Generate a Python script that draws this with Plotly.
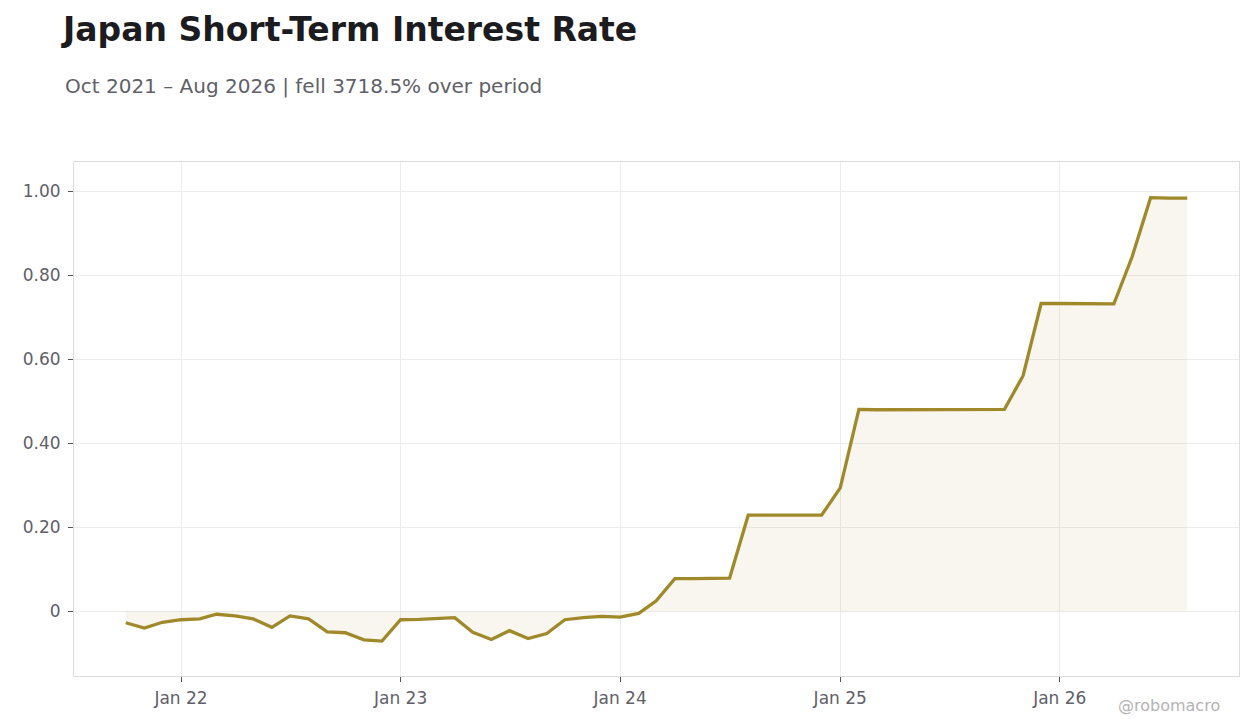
import pandas as pd
import plotly.graph_objects as go

# monthly observations, Oct 2021 .. Aug 2026
months = pd.date_range("2021-10-01", "2026-08-01", freq="MS")
rate = [
    -0.0272, -0.040, -0.026, -0.020, -0.018, -0.007, -0.011, -0.018, -0.038, -0.011,
    -0.018, -0.049, -0.051, -0.068, -0.071, -0.020, -0.019, -0.017, -0.015, -0.050,
    -0.067, -0.046, -0.065, -0.053, -0.020, -0.015, -0.012, -0.014, -0.005, 0.025,
    0.078, 0.078, 0.078, 0.079, 0.229, 0.229, 0.229, 0.229, 0.229, 0.294,
    0.481, 0.480, 0.480, 0.480, 0.481, 0.480, 0.480, 0.480, 0.481, 0.561,
    0.733, 0.733, 0.732, 0.732, 0.732, 0.843, 0.985, 0.984, 0.984,
]

ytick_vals = [0, 0.2, 0.4, 0.6, 0.8, 1.0]
ytick_text = ["0", "0.20", "0.40", "0.60", "0.80", "1.00"]

title = "Japan Short-Term Interest Rate"
subtitle = "Oct 2021 – Aug 2026 | fell 3718.5% over period"

line_col = "#a0892a"
text_col = "#5f6068"
grid_col = "#ececec"

# page body has an 8px margin, so the figure box is 1244x712
W, H = 1244, 712

fig = go.Figure()
fig.add_trace(go.Scatter(
    x=months, y=rate, mode="lines",
    line=dict(color=line_col, width=3.3),
    fill="tozeroy", fillcolor="rgba(160,137,42,0.08)",
    hoverinfo="skip", showlegend=False,
))

fig.update_layout(
    margin=dict(l=66, r=13, t=154, b=44),
    paper_bgcolor="#ffffff",
    plot_bgcolor="#ffffff",
    font=dict(family="DejaVu Sans", size=17, color=text_col),
    title=dict(
        text=f"<b>{title}</b>", x=55 / W, xanchor="left",
        y=1 - 21 / H, yanchor="middle", yref="container",
        font=dict(size=33, color="#1b1b20"),
    ),
    annotations=[
        dict(text=subtitle, xref="paper", yref="paper",
             x=(63 - 74) / 1165, y=(676 - 86) / 514, xanchor="left", yanchor="middle",
             showarrow=False, font=dict(size=20, color=text_col)),
        dict(text="@robomacro", xref="paper", yref="paper",
             x=(1222 - 74) / 1165, y=(676 - 705) / 514, xanchor="right", yanchor="middle",
             showarrow=False, font=dict(size=16, color="#b4b4b4")),
    ],
)

fig.update_xaxes(
    range=["2021-07-07", "2026-10-26"],
    tickformat="%b %y", dtick="M12", tick0="2022-01-01",
    ticks="outside", ticklen=5, tickcolor="#555555", ticklabelstandoff=2,
    showgrid=True, gridcolor=grid_col,
    showline=True, linecolor="#dcdcdc", mirror=True,
    zeroline=False,
)
fig.update_yaxes(
    range=[-0.154, 1.070],
    tickvals=ytick_vals, ticktext=ytick_text,
    ticks="outside", ticklen=5, tickcolor="#555555", ticklabelstandoff=4,
    showgrid=True, gridcolor=grid_col,
    showline=True, linecolor="#dcdcdc", mirror=True,
    zeroline=False,
)

fig.write_html("out.html")
